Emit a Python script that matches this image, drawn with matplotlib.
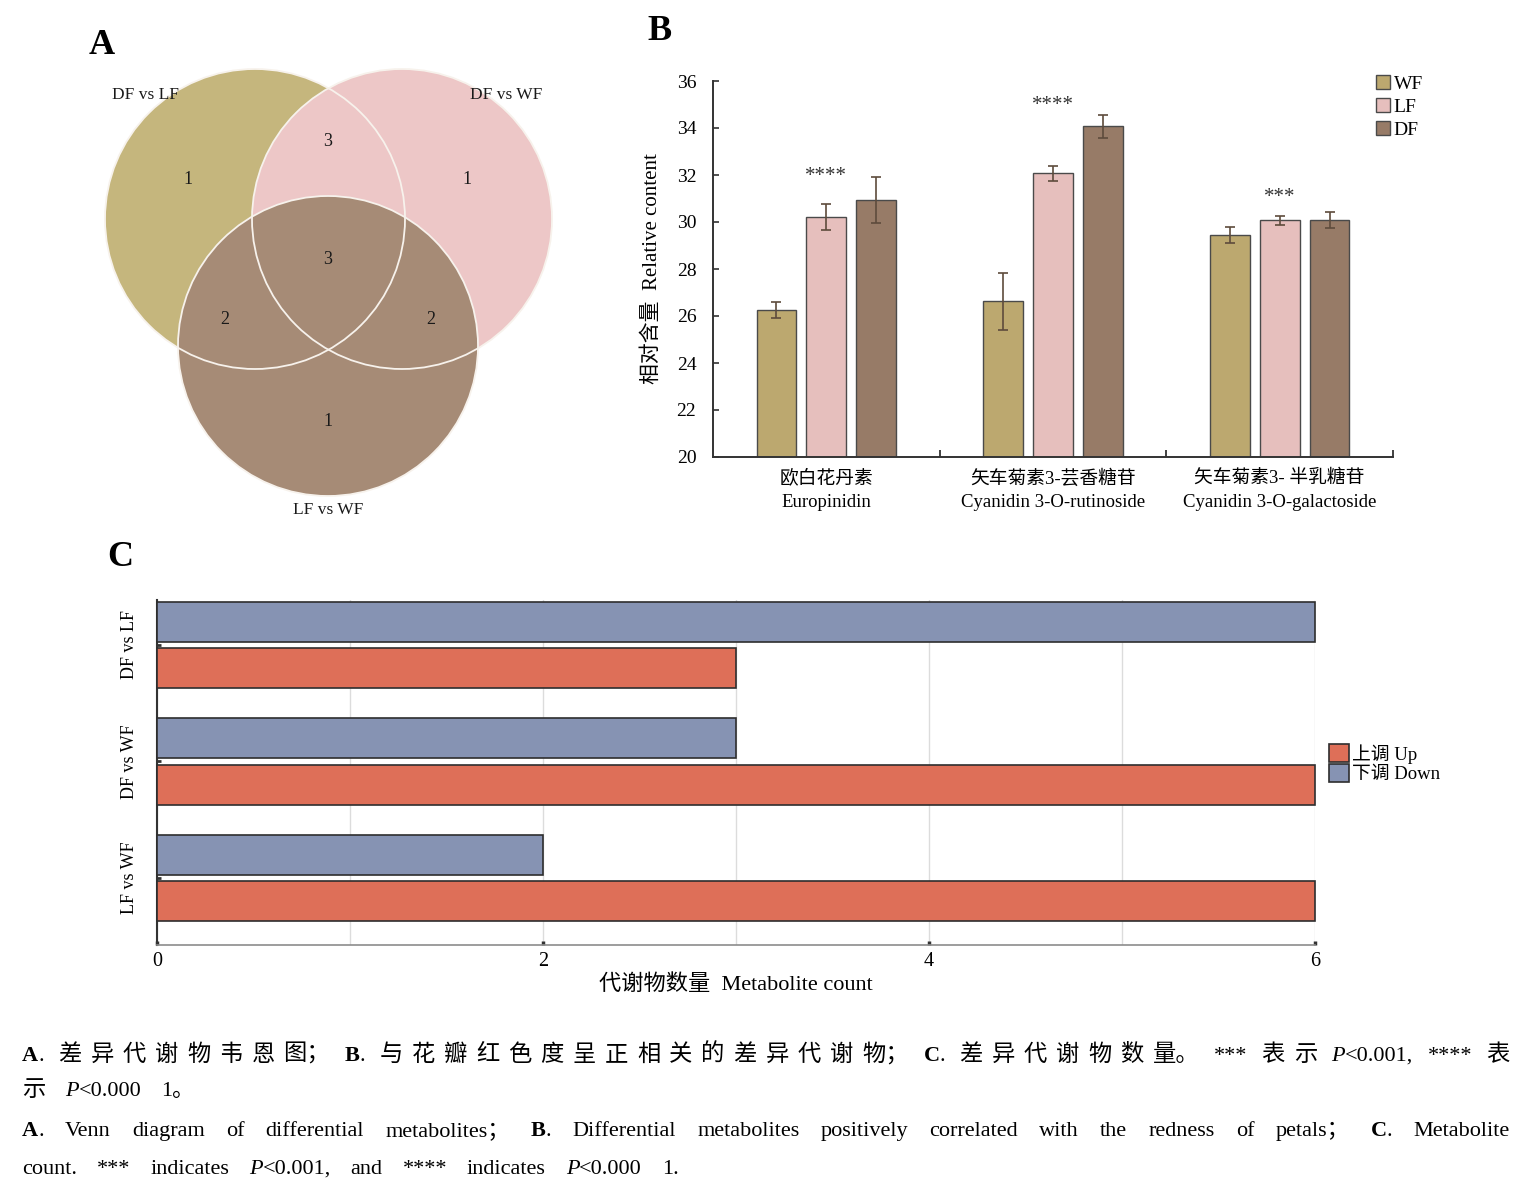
import matplotlib
matplotlib.use('Agg')
import matplotlib.pyplot as plt
from matplotlib.patches import Circle
import numpy as np

plt.rcParams['font.family'] = ['Liberation Serif', 'Noto Sans CJK SC']
plt.rcParams['axes.unicode_minus'] = False

W, H = 1526, 1191

# ---------------- data ----------------
# Venn: region keys are membership of (DF vs LF, DF vs WF, LF vs WF)
venn_sets = ['DF vs LF', 'DF vs WF', 'LF vs WF']
venn_counts = {'100': 1, '010': 1, '001': 1, '110': 3, '101': 2, '011': 2, '111': 3}

# panel B
compounds_cn = ['欧白花丹素', '矢车菊素3-芸香糖苷', '矢车菊素3- 半乳糖苷']
compounds_en = ['Europinidin', 'Cyanidin 3-O-rutinoside', 'Cyanidin 3-O-galactoside']
groups = ['WF', 'LF', 'DF']
wf_mean = [26.25, 26.62, 29.45]
wf_err = [0.33, 1.22, 0.35]
lf_mean = [30.20, 32.07, 30.08]
lf_err = [0.56, 0.32, 0.19]
df_mean = [30.93, 34.07, 30.08]
df_err = [0.98, 0.50, 0.34]
stars = ['****', '****', '***']
star_y = [31.95, 34.95, 31.05]

# panel C (top to bottom)
comparisons = ['DF vs LF', 'DF vs WF', 'LF vs WF']
up_counts = [3, 6, 6]
down_counts = [6, 3, 2]

caption = [
    ('^A^. 差异代谢物韦恩图； ^B^. 与花瓣红色度呈正相关的差异代谢物； ^C^. 差异代谢物数量。 *** 表示 ~P~<0.001, **** 表', True),
    ('示 ~P~<0.000 1。', False),
    ('^A^. Venn diagram of differential metabolites； ^B^. Differential metabolites positively correlated with the redness of petals； ^C^. Metabolite', True),
    ('count. *** indicates ~P~<0.001, and **** indicates ~P~<0.000 1.', False),
]

# ---------------- figure ----------------
fig = plt.figure(figsize=(W / 100, H / 100), dpi=100)


def px_box(x0, y0, x1, y1):
    return [x0 / W, 1 - y1 / H, (x1 - x0) / W, (y1 - y0) / H]


# ---- A: Venn
axa = fig.add_axes(px_box(80, 60, 580, 525))
axa.set_xlim(80, 580)
axa.set_ylim(525, 60)
axa.axis('off')
venn_centers = [(255, 219), (402, 219), (328, 346)]
venn_colors = ['#C5B67D', '#EDC7C7', '#A68B76']
for k, (c, col) in enumerate(zip(venn_centers, venn_colors)):
    axa.add_patch(Circle(c, 150, fc=col, ec='none', zorder=1 + k))
for c in venn_centers:
    axa.add_patch(Circle(c, 150, fc='none', ec='#f7f2ec', lw=1.3, zorder=5))
region_pos = {'100': (188, 180), '010': (467, 180), '001': (328, 421), '110': (328, 142),
              '101': (225, 320), '011': (431, 320), '111': (328, 260)}
for key, n in venn_counts.items():
    axa.text(*region_pos[key], str(n), ha='center', va='center', fontsize=13, color='#1a1a1a', zorder=6)
set_label_pos = [(145, 95), (506, 95), (328, 510)]
for name, p in zip(venn_sets, set_label_pos):
    axa.text(*p, name, ha='center', va='center', fontsize=12.5, color='#1a1a1a', zorder=6)

# ---- B: grouped bars
axb = fig.add_axes(px_box(713, 81, 1393, 457))
x = np.arange(len(compounds_en))
colors_b = ['#BCA86F', '#E6BFBD', '#977B67']
bars_b = []
for i, (g, m, e, c) in enumerate(zip(groups, [wf_mean, lf_mean, df_mean], [wf_err, lf_err, df_err], colors_b)):
    b = axb.bar(x + (i - 1) * 0.22, m, 0.176, yerr=e, color=c, edgecolor='#4a4a4a', linewidth=1.0,
                label=g, capsize=3.5, error_kw=dict(ecolor='#5e4b3c', elinewidth=1.2, capthick=1.2))
    bars_b.append(b)
for xi, s, sy in zip(x, stars, star_y):
    axb.text(xi, sy, s, ha='center', va='center', fontsize=15, color='#333333')
axb.set_ylim(20, 36)
axb.set_xlim(-0.5, 2.5)
axb.set_yticks(np.arange(20, 37, 2))
axb.set_xticks(x)
axb.set_xticklabels([f'{cn}\n{en}' for cn, en in zip(compounds_cn, compounds_en)], fontsize=13.5, linespacing=1.5)
axb.set_xticks([0.5, 1.5, 2.5], minor=True)
axb.tick_params(axis='x', which='major', length=0, pad=9)
axb.tick_params(axis='x', which='minor', direction='in', length=5, width=1.3, color='#333333')
axb.tick_params(axis='y', direction='in', length=4, width=1.2, color='#333333', labelsize=14, pad=12)
for s in ['top', 'right']:
    axb.spines[s].set_visible(False)
for s in ['left', 'bottom']:
    axb.spines[s].set_color('#333333')
    axb.spines[s].set_linewidth(1.4)
axb.set_ylabel('相对含量  Relative content', fontsize=15)
axb.yaxis.set_label_coords(-0.075, 0.5)
axb.legend(handles=bars_b, loc='upper left', bbox_to_anchor=(1376 / W, 1 - 75 / H),
           bbox_transform=fig.transFigure, frameon=False, fontsize=14, handlelength=0.7,
           handleheight=0.7, handletextpad=0.2, labelspacing=0.28, borderpad=0, borderaxespad=0)

# ---- C: horizontal bars
axc = fig.add_axes(px_box(157, 600, 1315, 945))
yc = np.arange(len(comparisons))
bh = 0.343
up_bars = axc.barh(yc + 0.2, up_counts, bh, color='#DE6F58', edgecolor='#2e2e2e', linewidth=1.2,
                   label='上调 Up', zorder=3, clip_on=False)
down_bars = axc.barh(yc - 0.2, down_counts, bh, color='#8693B3', edgecolor='#2e2e2e', linewidth=1.2,
                     label='下调 Down', zorder=3, clip_on=False)
axc.set_xlim(0, 6)
axc.set_ylim(2.575, -0.385)
axc.set_xticks([0, 2, 4, 6])
axc.set_xticks([1, 3, 5], minor=True)
axc.grid(axis='x', which='both', color='#dcdcdc', linewidth=1.0, zorder=0)
axc.set_axisbelow(True)
axc.set_yticks(yc)
axc.set_yticklabels(comparisons, rotation=90, va='center', fontsize=13)
axc.tick_params(axis='x', which='major', direction='in', length=3, width=2.5, color='#333333', labelsize=14.5, pad=5)
axc.tick_params(axis='x', which='minor', length=0)
axc.tick_params(axis='y', direction='in', length=3, width=2, color='#333333', pad=14)
for s in ['top', 'right']:
    axc.spines[s].set_visible(False)
axc.spines['left'].set_color('#333333')
axc.spines['left'].set_linewidth(1.5)
axc.spines['bottom'].set_color('#8c8c8c')
axc.spines['bottom'].set_linewidth(1.2)
axc.set_xlabel('代谢物数量  Metabolite count', fontsize=16, labelpad=2)
fig.legend(handles=[up_bars, down_bars], loc='upper left', bbox_to_anchor=(1329 / W, 1 - 744 / H),
           frameon=False, fontsize=13.5, handlelength=1.05, handleheight=1.1, handletextpad=0.15,
           labelspacing=0.0, borderpad=0, borderaxespad=0)

# ---- panel letters
for letter, (px, py) in zip('ABC', [(102, 45), (660, 31), (120, 557)]):
    fig.text(px / W, 1 - py / H, letter, ha='center', va='center', fontsize=26, fontweight='bold')


# ---- caption (justified lines)
def parse_markup(s):
    out, bold, ital = [], False, False
    for ch in s:
        if ch == '^':
            bold = not bold
        elif ch == '~':
            ital = not ital
        else:
            out.append((ch, bold, ital))
    return out


def is_wide(ch):
    return ord(ch) > 0x2E7F


CLOSING = '；，。、：'


def split_units(chars):
    units, cur, space = [], None, False
    for ch, b, it in chars:
        if ch == ' ':
            cur, space = None, True
            continue
        if ch in CLOSING and cur is not None:
            cur['chars'].append((ch, b, it))
            continue
        if cur is None or is_wide(ch) or is_wide(cur['chars'][-1][0]):
            cur = {'chars': [], 'space': space}
            units.append(cur)
            space = False
        cur['chars'].append((ch, b, it))
    return units


renderer = fig.canvas.get_renderer()
X0, X1 = 22, 1510
FS = 16


def draw_caption_line(y_px, markup, justify):
    units = split_units(parse_markup(markup))
    for u in units:
        runs = []
        for ch, b, it in u['chars']:
            if runs and runs[-1][1] == b and runs[-1][2] == it:
                runs[-1][0] += ch
            else:
                runs.append([ch, b, it])
        u['texts'] = []
        for s, b, it in runs:
            size = FS * 1.05 if is_wide(s[0]) else FS
            t = fig.text(0, 1 - y_px / H, s, fontsize=size, va='baseline', ha='left',
                         fontweight='bold' if b else 'normal', fontstyle='italic' if it else 'normal')
            u['texts'].append((t, t.get_window_extent(renderer).width))
        u['w'] = sum(w for _, w in u['texts'])
    space_w = (0.25 if justify else 0.85) * FS * 100 / 72
    natural = sum(u['w'] for u in units) + sum(space_w for u in units[1:] if u['space'])
    extra = (X1 - X0 - natural) / (len(units) - 1) if justify else 1.0
    xpos = X0
    for k, u in enumerate(units):
        if k > 0:
            xpos += extra + (space_w if u['space'] else 0)
        for t, w in u['texts']:
            t.set_x(xpos / W)
            xpos += w


for (line, just), yb in zip(caption, [1061, 1096, 1136, 1174]):
    draw_caption_line(yb, line, just)

fig.savefig('out.png', dpi=100)
